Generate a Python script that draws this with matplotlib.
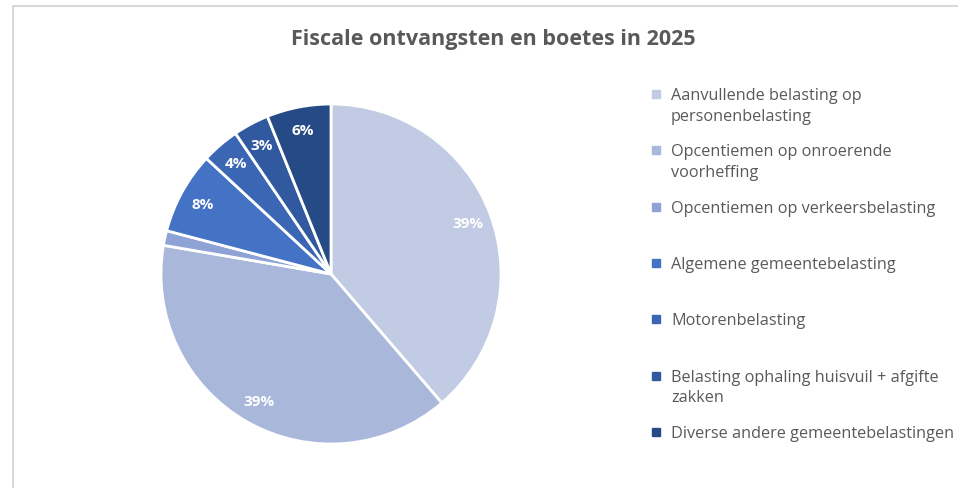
import numpy as np
import matplotlib
matplotlib.use("Agg")
from matplotlib import pyplot as plt
from matplotlib.patches import Rectangle

# data (share in %)
categories = [
    "Aanvullende belasting op\npersonenbelasting",
    "Opcentiemen op onroerende\nvoorheffing",
    "Opcentiemen op verkeersbelasting",
    "Algemene gemeentebelasting",
    "Motorenbelasting",
    "Belasting ophaling huisvuil + afgifte\nzakken",
    "Diverse andere gemeentebelastingen",
]
shares = [38.7, 39.0, 1.4, 7.8, 3.6, 3.4, 6.1]
colors = ["#c2cbe4", "#a9b7db", "#8ea2d5", "#4472c4", "#3b66b3", "#30599f", "#264a85"]
title = "Fiscale ontvangsten en boetes in 2025"

W, H = 958, 489
plt.rcParams["font.family"] = ["Open Sans", "DejaVu Sans"]
fig = plt.figure(figsize=(W / 100, H / 100), dpi=100)

# chart area border (cut off at the right and bottom in the original)
fig.patches.append(Rectangle((13 / W, -0.1), 1.2, 1.1 - 7 / H, transform=fig.transFigure,
                             fill=False, edgecolor="#d9d9d9", linewidth=1.5))

cx, cy, r = 331, 275, 170
ax = fig.add_axes([(cx - r) / W, (H - cy - r) / H, 2 * r / W, 2 * r / H])


def fmt(p):
    return "%.0f%%" % p if p >= 2 else ""


wedges, texts, autotexts = ax.pie(
    shares, colors=colors, startangle=90, counterclock=False,
    autopct=fmt, pctdistance=0.86, radius=1,
    wedgeprops=dict(edgecolor="white", linewidth=2),
    textprops=dict(color="white", fontsize=11, fontweight="bold"),
)
ax.set_xlim(-1, 1)
ax.set_ylim(-1, 1)
ax.set_aspect("equal")

fig.text(493 / W, 1 - 40 / H, title, ha="center", va="center",
         fontsize=15.5, fontweight="bold", color="#595959")

# legend, entries evenly spaced like Excel does
tops = np.linspace(95, 433, len(categories))
for lab, col, y in zip(categories, colors, tops):
    fig.patches.append(Rectangle((652 / W, 1 - (y + 4) / H), 8 / W, 8 / H,
                                 transform=fig.transFigure, color=col))
    fig.text(671 / W, 1 - (y - 7) / H, lab, ha="left", va="top",
             fontsize=11.7, color="#595959", linespacing=1.4)

fig.savefig("out.png", dpi=100)
